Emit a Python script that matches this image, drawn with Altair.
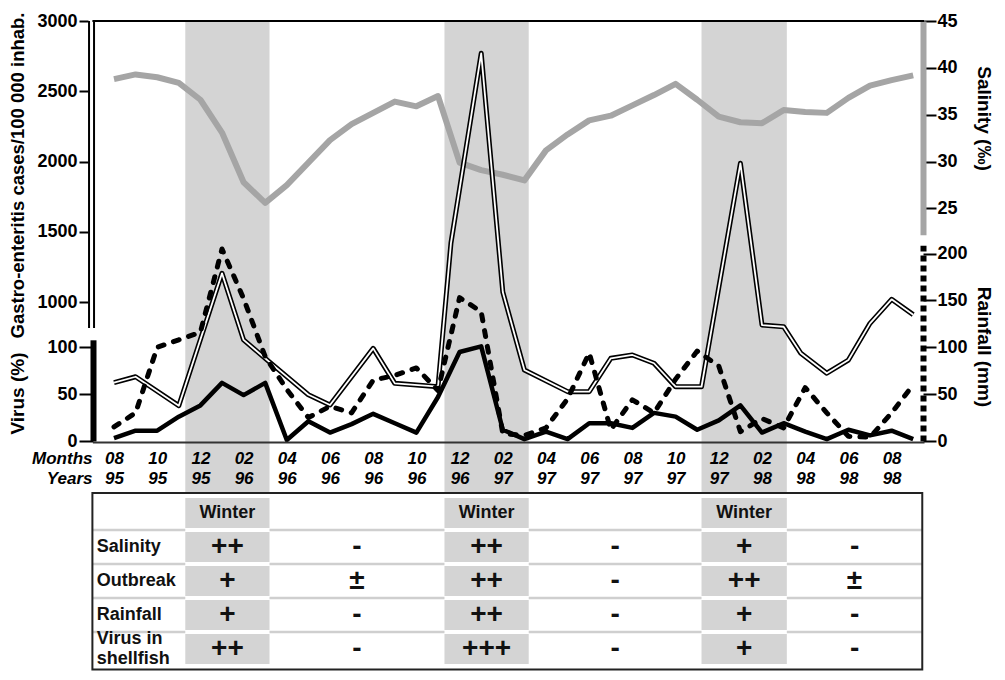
import json
import altair as alt
import pandas as pd

# ---------------- data ----------------
# month index: 0 = Aug 1995 ... 37 = Sep 1998
months = list(range(38))
salinity = [38.8, 39.3, 39.0, 38.4, 36.6, 33.1, 27.8, 25.6, 27.5, 29.9,
            32.3, 34.0, 35.2, 36.4, 35.9, 37.0, 29.9, 29.1, 28.6, 28.0,
            31.2, 32.9, 34.4, 34.9, 36.0, 37.1, 38.3, 36.6, 34.8, 34.2,
            34.1, 35.5, 35.3, 35.2, 36.8, 38.1, 38.7, 39.2]
virus = [3, 11, 11, 26, 38, 62, 49, 62, 1, 21,
         9, 18, 29, 19, 9, 47, 95, 101, 12, 2,
         10, 2, 19, 19, 14, 30, 26, 12, 22, 38,
         9, 19, 10, 2, 12, 6, 11, 2]
rainfall = [15, 30, 100, 108, 116, 205, 152, 90, 55, 25,
            37, 30, 65, 70, 78, 54, 153, 138, 8, 6,
            14, 45, 94, 12, 44, 30, 66, 96, 80, 10,
            24, 14, 57, 30, 5, 4, 30, 60]
gastro_month = [0, 1, 3, 5, 6, 7, 9, 10, 12, 13, 15, 15.6, 17, 18, 19, 21, 22,
                23, 24, 25, 26, 27.2, 29, 30, 31, 31.8, 33, 34, 35, 36, 37]
gastro = [426, 468, 262, 1204, 730, 599, 340, 267, 670, 421, 397, 1420, 2770,
          1071, 516, 362, 362, 599, 623, 564, 397, 397, 1987, 836, 824, 635,
          493, 587, 848, 1019, 910]

winter_start = [3.3, 15.3, 27.2]
winter_end = [7.2, 19.2, 31.15]

tick_pos = list(range(0, 37, 2))
tick_months = ["08", "10", "12", "02", "04", "06", "08", "10", "12", "02",
               "04", "06", "08", "10", "12", "02", "04", "06", "08"]
tick_years = ["95", "95", "95", "96", "96", "96", "96", "96", "96", "97",
              "97", "97", "97", "97", "97", "98", "98", "98", "98"]

row_labels = ["Salinity", "Outbreak", "Rainfall", "Virus in\nshellfish"]
row_values = [
    ["++", "-", "++", "-", "+", "-"],
    ["+", "\u00b1", "++", "-", "++", "\u00b1"],
    ["+", "-", "++", "-", "+", "-"],
    ["++", "-", "+++", "-", "+", "-"],
]
header_text = "Winter"

# ---------------- layout / style ----------------
W, H = 989, 664
FONT = "Liberation Sans"
TAB_L, TAB_R = -1.0, 37.42

xs = alt.Scale(domain=[-1, 37.5], range=[84.4, 916.0], nice=False, zero=False)
gy = alt.Scale(domain=[0, 3000], range=[434.5, 13.0], nice=False, zero=False)
vy = alt.Scale(domain=[0, 108], range=[433.0, 331.8], nice=False, zero=False)
ry = alt.Scale(domain=[0, 209], range=[433.0, 237.2], nice=False, zero=False)
sy = alt.Scale(domain=[22.2, 45], range=[226.75, 13.0], nice=False, zero=False)
by = alt.Scale(domain=[0, 1], range=[485.0, 13.0], nice=False, zero=False)
ty = alt.Scale(domain=[0, 5], range=[488.0, 658.0], nice=False, zero=False)

GRAY_BAND = "#d4d4d4"
SAL_GRAY = "#a5a5a5"


def X(field):
    return alt.X(field, type="quantitative", scale=xs, axis=None)


def XD(v):
    return alt.XDatum(v, type="quantitative", scale=xs, axis=None)


def YD(v, sc):
    return alt.YDatum(v, type="quantitative", scale=sc, axis=None)


lab = dict(labelFont=FONT, labelFontSize=18, labelFontWeight="bold",
           labelColor="black", labelFlush=False, labelOverlap=False)
ttl = dict(titleFont=FONT, titleFontWeight="bold", titleColor="black",
           titleAlign="center", titleBaseline="middle")

one = pd.DataFrame({"_": [0]})

# ---------------- winter bands + x axis ----------------
bands_df = pd.DataFrame({"start": winter_start, "end": winter_end})
label_expr = "[{}[round(datum.value/2)], {}[round(datum.value/2)]]".format(
    json.dumps(tick_months), json.dumps(tick_years))
x_axis = alt.Axis(
    orient="bottom", offset=-230, values=tick_pos, labelExpr=label_expr,
    labelFont=FONT, labelFontSize=17, labelFontStyle="italic",
    labelFontWeight="bold", labelColor="black", labelBaseline="top",
    labelAlign="center", labelPadding=8, labelLineHeight=20.5,
    labelOverlap=False, labelFlush=False,
    ticks=False, tickSize=0, grid=False,
    domain=True, domainColor="#333333", domainWidth=2,
    title=["Months", "Years"], titleX=84, titleY=8, titleAlign="right",
    titleBaseline="top", titleLineHeight=20.5, titleFont=FONT,
    titleFontSize=17, titleFontStyle="italic", titleFontWeight="bold",
    titleColor="black", zindex=1,
)
bands = alt.Chart(bands_df).mark_rect(color=GRAY_BAND).encode(
    x=alt.X("start:Q", scale=xs, axis=x_axis),
    x2="end:Q",
    y=YD(0, by),
    y2=alt.Y2Datum(1),
)

# ---------------- table ----------------
centers = []
for i in range(len(winter_start)):
    centers.append((winter_start[i] + winter_end[i]) / 2)
    nxt = winter_start[i + 1] if i + 1 < len(winter_start) else TAB_R
    centers.append((winter_end[i] + nxt) / 2)

n_rows = len(row_labels) + 1
sep_df = pd.DataFrame({"r": list(range(1, n_rows))})
seps = alt.Chart(sep_df).mark_rule(color="#cfcfcf", strokeWidth=2.5).encode(
    x=XD(TAB_L), x2=alt.X2Datum(TAB_R),
    y=alt.Y("r:Q", scale=ty, axis=None),
)
white_cols = alt.Chart(bands_df).mark_rect(color="white").encode(
    x=X("start"), x2="end", y=YD(0, ty), y2=alt.Y2Datum(n_rows),
)
cells_df = pd.DataFrame(
    [{"start": s, "end": e, "row": r} for s, e in zip(winter_start, winter_end)
     for r in range(n_rows)])
gray_cells = alt.Chart(cells_df).transform_calculate(
    y0="datum.row + 0.06", y1="datum.row + 0.94"
).mark_rect(color=GRAY_BAND).encode(
    x=X("start"), x2="end",
    y=alt.Y("y0:Q", scale=ty, axis=None), y2="y1:Q",
)
winter_txt = alt.Chart(bands_df).transform_calculate(
    c="(datum.start + datum.end) / 2"
).mark_text(text=header_text, font=FONT, fontSize=18, fontWeight="bold",
            color="#111111", baseline="middle").encode(
    x=X("c"), y=YD(0.5, ty),
)
rowlab_df = pd.DataFrame({
    "label": row_labels,
    "row": [i + 1.5 for i in range(len(row_labels))],
    "lines": [lbl.count("\n") + 1 for lbl in row_labels],
})
row_txt = alt.Chart(rowlab_df).transform_calculate(
    yy="datum.row - (datum.lines - 1) * 0.29"
).mark_text(
    align="left", baseline="middle", lineBreak="\n", lineHeight=20,
    font=FONT, fontSize=18, fontWeight="bold", color="#111111",
).encode(x=XD(-0.8), y=alt.Y("yy:Q", scale=ty, axis=None), text="label:N")
sym_df = pd.DataFrame(
    [{"x": centers[c], "row": r + 1.5, "s": row_values[r][c]}
     for r in range(len(row_values)) for c in range(len(centers))])
sym_txt = alt.Chart(sym_df).mark_text(
    align="center", baseline="middle", font=FONT, fontSize=28,
    fontWeight="bold", color="#111111",
).encode(x=X("x"), y=alt.Y("row:Q", scale=ty, axis=None), text="s:N")
border = alt.Chart(one).mark_rect(
    fillOpacity=0, stroke="#222222", strokeWidth=2
).encode(x=XD(TAB_L), x2=alt.X2Datum(TAB_R), y=YD(-0.09, ty),
         y2=alt.Y2Datum(5.1))

# ---------------- salinity ----------------
sal_df = pd.DataFrame({"m": months, "s": salinity})
sal_axis = alt.Axis(
    orient="right", offset=-74, values=[25, 30, 35, 40, 45], format="d",
    domain=True, domainColor=SAL_GRAY, domainWidth=6, grid=False,
    ticks=True, tickSize=13, tickWidth=2, tickColor="black", labelPadding=1,
    title="Salinity (\u2030)", titleFontSize=19, titleAngle=90, titleX=60,
    titleY=110, **lab, **ttl)
sal = alt.Chart(sal_df).mark_line(
    color=SAL_GRAY, strokeWidth=6, strokeJoin="round"
).encode(x=X("m"), y=alt.Y("s:Q", scale=sy, axis=sal_axis))

# ---------------- gastro-enteritis ----------------
g_df = pd.DataFrame({"m": gastro_month, "g": gastro})
gastro_axis = alt.Axis(
    orient="left", offset=-80, values=[1000, 1500, 2000, 2500, 3000],
    format="d", domain=False, grid=False, ticks=True, tickSize=9,
    tickWidth=2, tickColor="black", labelPadding=2,
    title="Gastro-enteritis cases/100 000 inhab.", titleFontSize=18.5,
    titleAngle=270, titleX=-70.5, titleY=167, **lab, **ttl)
g_outer = alt.Chart(g_df).mark_line(
    color="black", strokeWidth=5, strokeJoin="round"
).encode(x=X("m"), y=alt.Y("g:Q", scale=gy, axis=gastro_axis))
g_inner = alt.Chart(g_df).mark_line(
    color="white", strokeWidth=1.8, strokeJoin="round"
).encode(x=X("m"), y=alt.Y("g:Q", scale=gy, axis=None))
frame_top = alt.Chart(one).mark_rule(color="black", strokeWidth=2).encode(
    x=XD(-1), x2=alt.X2Datum(37.5), y=YD(3000, gy))
gax_outer = alt.Chart(one).mark_rule(color="black", strokeWidth=7).encode(
    x=XD(-1.04), y=YD(815, gy), y2=alt.Y2Datum(3000))
gax_inner = alt.Chart(one).mark_rule(color="white", strokeWidth=3).encode(
    x=XD(-1.04), y=YD(815, gy), y2=alt.Y2Datum(3000))

# ---------------- virus ----------------
v_df = pd.DataFrame({"m": months, "v": virus})
virus_axis = alt.Axis(
    orient="left", offset=-85, values=[0, 50, 100], format="d",
    domain=True, domainColor="black", domainWidth=6, grid=False,
    ticks=True, tickSize=14, tickWidth=2, tickColor="black", labelPadding=2,
    title="Virus (%)", titleFontSize=19, titleAngle=270, titleX=-75.5,
    titleY=385, **lab, **ttl)
virus_c = alt.Chart(v_df).mark_line(
    color="black", strokeWidth=4.5, strokeJoin="round"
).encode(x=X("m"), y=alt.Y("v:Q", scale=vy, axis=virus_axis))

# ---------------- rainfall ----------------
r_df = pd.DataFrame({"m": months, "r": rainfall})
rain_axis = alt.Axis(
    orient="right", offset=-74, values=[0, 50, 100, 150, 200], format="d",
    domain=True, domainColor="black", domainWidth=6, domainDash=[6, 4],
    grid=False, ticks=True, tickSize=13, tickWidth=2, tickColor="black",
    labelPadding=1, title="Rainfall (mm)", titleFontSize=19, titleAngle=90,
    titleX=60, titleY=338.5, **lab, **ttl)
rain_c = alt.Chart(r_df).mark_line(
    color="black", strokeWidth=5, strokeDash=[6, 10], strokeCap="round",
    strokeJoin="round"
).encode(x=X("m"), y=alt.Y("r:Q", scale=ry, axis=rain_axis))

chart = alt.layer(
    bands, seps, white_cols, gray_cells, winter_txt, row_txt, sym_txt, border,
    sal, gax_outer, gax_inner, frame_top, g_outer, g_inner, virus_c, rain_c
).resolve_scale(x="independent", y="independent").properties(
    width=W, height=H, padding=0,
    autosize=alt.AutoSizeParams(type="none"),
).configure(font=FONT).configure_view(strokeWidth=0)

chart.save("out.html", embed_options={"renderer": "svg", "actions": False})
